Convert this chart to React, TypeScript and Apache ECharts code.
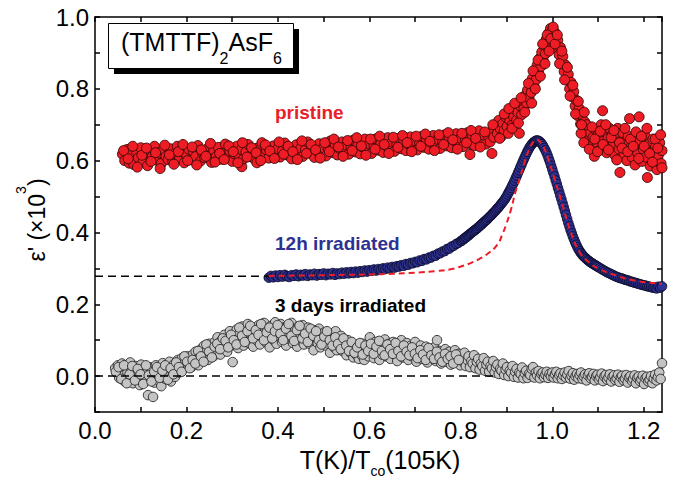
import React, { useEffect, useRef } from "react";
import * as echarts from "echarts";

// ---------- data (x = T/Tco, y = eps' x10^3) ----------
const pristine: [number, number][] = [
  [0.060,0.618],[0.065,0.600],[0.070,0.631],[0.075,0.593],[0.080,0.622],[0.085,0.589],[0.090,0.627],[0.095,0.608],
  [0.100,0.636],[0.105,0.597],[0.110,0.619],[0.115,0.586],[0.120,0.625],[0.125,0.610],[0.130,0.640],[0.135,0.601],
  [0.140,0.621],[0.145,0.592],[0.150,0.630],[0.155,0.612],[0.160,0.603],[0.165,0.633],[0.170,0.598],[0.175,0.620],
  [0.180,0.640],[0.185,0.606],[0.190,0.625],[0.195,0.594],[0.200,0.617],[0.205,0.632],[0.210,0.603],[0.215,0.626],
  [0.220,0.611],[0.225,0.642],[0.230,0.598],[0.235,0.621],[0.240,0.608],[0.245,0.633],[0.250,0.614],[0.255,0.595],
  [0.260,0.629],[0.265,0.611],[0.270,0.637],[0.275,0.604],[0.280,0.622],[0.285,0.646],[0.290,0.609],[0.295,0.627],
  [0.300,0.598],[0.305,0.619],[0.310,0.640],[0.315,0.613],[0.320,0.631],[0.321,0.583],[0.325,0.605],[0.330,0.624],
  [0.335,0.645],[0.340,0.611],[0.345,0.628],[0.350,0.603],[0.354,0.594],[0.355,0.635],[0.360,0.618],[0.365,0.650],
  [0.370,0.612],[0.375,0.630],[0.380,0.607],[0.385,0.625],[0.390,0.641],[0.395,0.614],[0.400,0.633],[0.405,0.610],
  [0.410,0.628],[0.415,0.649],[0.420,0.616],[0.425,0.637],[0.430,0.605],[0.435,0.624],[0.440,0.644],[0.445,0.619],
  [0.450,0.635],[0.455,0.612],[0.460,0.630],[0.465,0.652],[0.470,0.621],[0.475,0.640],[0.480,0.609],[0.485,0.628],
  [0.490,0.647],[0.495,0.617],[0.500,0.636],[0.505,0.613],[0.510,0.633],[0.515,0.655],[0.520,0.622],[0.525,0.641],
  [0.530,0.616],[0.535,0.634],[0.540,0.652],[0.545,0.625],[0.550,0.643],[0.555,0.618],[0.560,0.637],[0.565,0.657],
  [0.570,0.624],[0.575,0.645],[0.580,0.619],[0.585,0.638],[0.590,0.660],[0.595,0.627],[0.600,0.646],[0.605,0.620],
  [0.610,0.640],[0.615,0.661],[0.620,0.629],[0.625,0.648],[0.630,0.623],[0.635,0.643],[0.640,0.664],[0.645,0.631],
  [0.650,0.651],[0.655,0.626],[0.660,0.645],[0.665,0.662],[0.670,0.633],[0.675,0.652],[0.680,0.628],[0.685,0.647],
  [0.690,0.666],[0.695,0.635],[0.700,0.655],[0.705,0.630],[0.710,0.649],[0.715,0.668],[0.720,0.637],[0.725,0.657],
  [0.730,0.632],[0.735,0.651],[0.740,0.670],[0.745,0.639],[0.750,0.659],[0.755,0.634],[0.760,0.653],[0.765,0.672],
  [0.770,0.641],[0.775,0.661],[0.780,0.636],[0.785,0.656],[0.790,0.675],[0.795,0.644],[0.800,0.663],[0.805,0.639],
  [0.810,0.659],[0.815,0.678],[0.820,0.617],[0.822,0.646],[0.825,0.666],[0.830,0.642],[0.835,0.661],[0.840,0.683],
  [0.845,0.650],[0.850,0.671],[0.855,0.646],[0.860,0.668],[0.864,0.652],[0.868,0.620],[0.869,0.683],[0.872,0.665],
  [0.876,0.698],[0.880,0.676],[0.883,0.712],[0.886,0.689],[0.889,0.668],[0.892,0.703],[0.895,0.685],[0.898,0.721],
  [0.901,0.695],[0.904,0.676],[0.907,0.712],[0.910,0.731],[0.913,0.700],[0.916,0.722],[0.919,0.742],[0.922,0.713],
  [0.925,0.735],[0.928,0.676],[0.930,0.752],[0.933,0.728],[0.936,0.766],[0.938,0.745],[0.941,0.782],[0.944,0.760],
  [0.946,0.797],[0.949,0.775],[0.952,0.812],[0.954,0.790],[0.957,0.830],[0.960,0.808],[0.962,0.848],[0.965,0.826],
  [0.967,0.866],[0.970,0.845],[0.972,0.884],[0.975,0.862],[0.977,0.902],[0.980,0.880],[0.982,0.920],[0.985,0.898],
  [0.987,0.938],[0.990,0.915],[0.992,0.955],[0.994,0.932],[0.996,0.968],[0.999,0.948],[1.001,0.965],[1.003,0.930],
  [1.005,0.958],[1.008,0.940],[1.010,0.912],[1.012,0.935],[1.015,0.895],[1.018,0.915],[1.020,0.872],[1.023,0.890],
  [1.026,0.848],[1.029,0.866],[1.032,0.826],[1.035,0.840],[1.038,0.800],[1.041,0.818],[1.044,0.778],[1.047,0.792],
  [1.050,0.752],[1.053,0.768],[1.056,0.725],[1.059,0.745],[1.062,0.702],[1.065,0.728],[1.068,0.685],[1.071,0.708],
  [1.074,0.668],[1.077,0.690],[1.080,0.655],[1.083,0.678],[1.086,0.640],[1.089,0.664],[1.092,0.612],[1.095,0.686],
  [1.098,0.650],[1.101,0.672],[1.104,0.629],[1.107,0.700],[1.110,0.739],[1.113,0.655],[1.116,0.680],[1.119,0.622],
  [1.122,0.662],[1.125,0.690],[1.128,0.640],[1.131,0.672],[1.134,0.648],[1.137,0.615],[1.140,0.665],[1.143,0.690],
  [1.146,0.632],[1.148,0.567],[1.151,0.655],[1.154,0.678],[1.157,0.620],[1.160,0.645],[1.163,0.600],[1.166,0.668],
  [1.169,0.717],[1.172,0.638],[1.175,0.610],[1.178,0.660],[1.181,0.588],[1.184,0.642],[1.187,0.620],[1.190,0.722],
  [1.193,0.655],[1.196,0.598],[1.199,0.632],[1.202,0.672],[1.205,0.610],[1.208,0.553],[1.211,0.645],[1.214,0.585],
  [1.217,0.625],[1.220,0.660],[1.223,0.600],[1.226,0.638],[1.229,0.575],[1.232,0.615],[1.235,0.650],[1.238,0.592],
  [1.240,0.628],[1.241,0.605],
  [1.063,0.676],[1.069,0.650],[1.075,0.700],[1.081,0.632],[1.087,0.694],[1.093,0.660],[1.099,0.625],[1.105,0.682],
  [1.111,0.645],[1.117,0.700],[1.123,0.630],[1.129,0.664],[1.135,0.684],[1.141,0.602],[1.147,0.650],[1.153,0.635],
  [1.159,0.690],[1.165,0.625],[1.171,0.660],[1.177,0.640],[1.183,0.680],[1.189,0.606],[1.195,0.668],[1.201,0.640],
  [1.207,0.690],[1.213,0.620],[1.219,0.596],[1.225,0.660],[1.231,0.635],[1.237,0.672],[1.240,0.580],
  [0.0625,0.628],[0.0725,0.605],[0.0825,0.640],[0.0925,0.582],[0.1025,0.615],[0.1125,0.635],[0.1225,0.598],[0.1325,0.622],
  [0.1425,0.578],[0.1525,0.643],[0.1625,0.616],[0.1725,0.590],[0.1825,0.625],[0.1925,0.645],[0.2025,0.600],[0.2125,0.638],
  [0.2225,0.588],[0.2325,0.630],[0.2425,0.612],[0.2525,0.648],[0.2625,0.596],[0.2725,0.620],[0.2825,0.603],[0.2925,0.641],
  [0.3025,0.625],[0.3125,0.594],[0.3225,0.650],[0.3325,0.610],[0.3425,0.636],[0.3525,0.622],[0.3625,0.600],[0.3725,0.644],
  [0.3825,0.627],[0.3925,0.606],[0.4025,0.652],[0.4125,0.618],[0.4225,0.640],[0.4325,0.625],[0.4425,0.603],[0.4525,0.655],
  [0.4625,0.620],[0.4725,0.645],[0.4825,0.630],[0.4925,0.607],[0.5025,0.650],[0.5125,0.625],[0.5225,0.660],[0.5325,0.638],
  [0.5425,0.612],[0.5525,0.656],[0.5625,0.628],[0.5725,0.664],[0.5825,0.641],[0.5925,0.615],[0.6025,0.660],[0.6125,0.632],
  [0.6225,0.668],[0.6325,0.645],[0.6425,0.620],[0.6525,0.665],[0.6625,0.637],[0.6725,0.670],[0.6825,0.650],[0.6925,0.625],
  [0.7025,0.668],[0.7125,0.640],[0.7225,0.674],[0.7325,0.654],[0.7425,0.628],[0.7525,0.672],[0.7625,0.645],[0.7725,0.678],
  [0.7825,0.658],[0.7925,0.632],[0.8025,0.676],[0.8125,0.650],[0.8225,0.684],[0.8325,0.662],[0.8425,0.638],[0.8525,0.680],
  [0.870,0.700],[0.885,0.662],[0.895,0.730],[0.905,0.745],[0.912,0.690],[0.918,0.760],[0.926,0.705],[0.932,0.775],
  [0.940,0.735],[0.948,0.815],[0.955,0.760],[0.958,0.850],[0.963,0.800],[0.969,0.880],[0.974,0.835],[0.979,0.925],
  [0.984,0.870],[0.989,0.950],[0.993,0.905],[0.997,0.940],[1.002,0.972],[1.006,0.925],[1.011,0.950],[1.016,0.870],
  [1.021,0.905],[1.027,0.825],[1.033,0.860],[1.039,0.780],[1.045,0.810],[1.051,0.730],[1.057,0.765],[1.064,0.700],
  [1.070,0.735]
];

const irradiated12h: [number, number][] = [
  [0.380,0.274],[0.385,0.279],[0.390,0.275],[0.395,0.280],[0.400,0.276],[0.405,0.281],[0.410,0.277],[0.415,0.282],
  [0.420,0.278],[0.425,0.276],[0.430,0.281],[0.435,0.279],[0.440,0.283],[0.445,0.278],[0.450,0.282],[0.455,0.280],
  [0.460,0.284],[0.465,0.279],[0.470,0.283],[0.475,0.281],[0.480,0.285],[0.485,0.280],[0.490,0.284],[0.495,0.282],
  [0.500,0.286],[0.505,0.281],[0.510,0.285],[0.515,0.283],[0.520,0.287],[0.525,0.282],[0.530,0.286],[0.535,0.284],
  [0.540,0.288],[0.545,0.285],[0.550,0.289],[0.555,0.286],[0.560,0.290],[0.565,0.287],[0.570,0.291],[0.575,0.288],
  [0.580,0.292],[0.585,0.290],[0.590,0.294],[0.595,0.291],[0.600,0.295],[0.605,0.293],[0.610,0.297],[0.615,0.294],
  [0.620,0.298],[0.625,0.296],[0.630,0.300],[0.635,0.298],[0.640,0.302],[0.645,0.300],[0.650,0.304],[0.655,0.302],
  [0.660,0.306],[0.665,0.305],[0.670,0.309],[0.675,0.307],[0.680,0.312],[0.685,0.310],[0.690,0.315],[0.695,0.314],
  [0.700,0.318],[0.705,0.317],[0.710,0.322],[0.715,0.321],[0.720,0.326],[0.725,0.325],[0.730,0.330],[0.735,0.330],
  [0.740,0.335],[0.745,0.335],[0.750,0.341],[0.755,0.342],[0.760,0.347],[0.765,0.348],[0.770,0.354],[0.775,0.355],
  [0.780,0.361],[0.785,0.363],[0.790,0.368],[0.795,0.371],[0.800,0.376],[0.8025,0.377],[0.805,0.381],[0.8075,0.382],
  [0.810,0.386],[0.8125,0.387],[0.815,0.391],[0.8175,0.392],[0.820,0.396],[0.8225,0.398],[0.825,0.401],[0.8275,0.403],
  [0.830,0.406],[0.8325,0.408],[0.835,0.411],[0.8375,0.413],[0.840,0.417],[0.8425,0.419],[0.845,0.422],[0.8475,0.425],
  [0.850,0.428],[0.8525,0.431],[0.855,0.434],[0.8575,0.436],[0.860,0.440],[0.8625,0.443],[0.865,0.446],[0.8675,0.449],
  [0.870,0.453],[0.8725,0.456],[0.875,0.459],[0.8775,0.463],[0.880,0.467],[0.8825,0.470],[0.885,0.474],[0.8875,0.478],
  [0.890,0.482],[0.8925,0.486],[0.895,0.490],[0.8975,0.495],[0.900,0.500],[0.9025,0.506],[0.905,0.512],[0.9075,0.518],
  [0.910,0.524],[0.9125,0.531],[0.915,0.537],[0.9175,0.544],[0.920,0.551],[0.9225,0.558],[0.925,0.566],[0.9275,0.573],
  [0.930,0.581],[0.9325,0.588],[0.935,0.596],[0.9375,0.603],[0.940,0.610],[0.9425,0.617],[0.945,0.624],[0.9475,0.630],
  [0.950,0.636],[0.9525,0.641],[0.955,0.645],[0.9575,0.649],[0.960,0.652],[0.9625,0.654],[0.965,0.656],[0.9675,0.656],
  [0.970,0.655],[0.9725,0.653],[0.975,0.650],[0.9775,0.646],[0.980,0.641],[0.9825,0.635],[0.985,0.629],[0.9875,0.622],
  [0.990,0.614],[0.9925,0.605],[0.995,0.596],[0.9975,0.586],[1.000,0.576],[1.0025,0.566],[1.005,0.556],[1.0075,0.545],
  [1.010,0.535],[1.0125,0.524],[1.015,0.514],[1.0175,0.503],[1.020,0.493],[1.0225,0.482],[1.025,0.471],[1.0275,0.460],
  [1.030,0.449],[1.0325,0.438],[1.035,0.427],[1.0375,0.417],[1.040,0.407],[1.0425,0.398],[1.045,0.389],[1.0475,0.381],
  [1.050,0.373],[1.0525,0.366],[1.055,0.359],[1.0575,0.353],[1.060,0.348],[1.0625,0.343],[1.065,0.339],[1.0675,0.335],
  [1.070,0.332],[1.0725,0.329],[1.075,0.326],[1.0775,0.323],[1.080,0.321],[1.0825,0.318],[1.085,0.316],[1.0875,0.314],
  [1.090,0.312],[1.0925,0.310],[1.095,0.308],[1.0975,0.306],[1.100,0.304],[1.104,0.301],[1.108,0.298],[1.112,0.295],
  [1.116,0.292],[1.120,0.289],[1.124,0.287],[1.128,0.284],[1.132,0.282],[1.136,0.279],[1.140,0.277],[1.144,0.275],
  [1.148,0.273],[1.152,0.272],[1.156,0.270],[1.160,0.268],[1.164,0.267],[1.168,0.265],[1.172,0.263],[1.176,0.262],
  [1.180,0.260],[1.184,0.259],[1.188,0.257],[1.192,0.256],[1.196,0.254],[1.200,0.253],[1.204,0.252],[1.208,0.250],
  [1.212,0.249],[1.216,0.248],[1.220,0.246],[1.224,0.247],[1.228,0.244],[1.232,0.249],[1.236,0.246],[1.240,0.250]
];

const fit12h: [number, number][] = [
  [0.38,0.279],[0.45,0.280],[0.50,0.281],[0.55,0.282],[0.60,0.283],[0.65,0.285],[0.70,0.288],[0.75,0.293],
  [0.78,0.298],[0.80,0.305],[0.82,0.314],[0.84,0.326],[0.86,0.342],[0.88,0.366],[0.89,0.392],[0.90,0.425],
  [0.91,0.465],[0.92,0.515],[0.93,0.555],[0.94,0.597],[0.95,0.633],[0.96,0.655],[0.965,0.659],[0.97,0.657],
  [0.98,0.640],[0.99,0.610],[1.00,0.570],[1.02,0.487],[1.04,0.403],[1.06,0.345],[1.08,0.317],[1.10,0.300],
  [1.14,0.280],[1.18,0.266],[1.24,0.257]
];

const irradiated3d: [number, number][] = [
  [0.044,0.022],[0.048,0.008],[0.050,0.030],[0.053,-0.005],[0.056,0.018],[0.059,0.035],[0.062,0.002],[0.065,-0.015],
  [0.068,0.025],[0.071,0.010],[0.074,-0.008],[0.077,0.038],[0.080,0.015],[0.083,-0.020],[0.086,0.005],[0.089,0.028],
  [0.092,-0.010],[0.095,0.012],[0.098,-0.025],[0.101,0.032],[0.104,0.000],[0.107,0.018],[0.110,-0.015],[0.113,0.008],
  [0.116,-0.053],[0.119,0.025],[0.122,-0.005],[0.125,0.015],[0.127,-0.058],[0.130,-0.018],[0.133,0.030],[0.136,0.004],
  [0.139,-0.012],[0.142,0.020],[0.145,-0.028],[0.148,0.036],[0.151,0.010],[0.154,-0.008],[0.157,0.024],[0.160,0.000],
  [0.163,0.040],[0.166,-0.015],[0.169,0.015],[0.172,0.032],[0.175,-0.002],[0.178,0.022],[0.181,0.045],[0.184,0.010],
  [0.187,0.035],[0.190,0.050],[0.193,0.020],[0.196,0.042],[0.199,0.028],[0.202,0.055],[0.205,0.035],[0.208,0.048],
  [0.211,0.025],[0.214,0.060],[0.217,0.040],[0.220,0.068],[0.223,0.046],[0.226,0.030],[0.229,0.062],[0.232,0.075],
  [0.235,0.050],[0.238,0.084],[0.241,0.058],[0.244,0.072],[0.247,0.045],[0.250,0.090],[0.253,0.065],[0.256,0.080],
  [0.259,0.055],[0.262,0.095],[0.265,0.070],[0.268,0.108],[0.271,0.082],[0.274,0.060],[0.277,0.100],[0.280,0.078],
  [0.283,0.115],[0.286,0.090],[0.289,0.068],[0.292,0.105],[0.295,0.125],[0.298,0.085],[0.301,0.039],[0.304,0.112],
  [0.307,0.095],[0.310,0.130],[0.313,0.078],[0.316,0.118],[0.319,0.100],[0.322,0.138],[0.325,0.085],[0.328,0.122],
  [0.331,0.105],[0.334,0.145],[0.337,0.092],[0.340,0.128],[0.343,0.110],[0.346,0.082],[0.349,0.135],[0.352,0.118],
  [0.355,0.098],[0.358,0.142],[0.361,0.088],[0.364,0.125],[0.367,0.108],[0.370,0.148],[0.373,0.095],[0.376,0.130],
  [0.379,0.112],[0.382,0.080],[0.385,0.140],[0.388,0.118],[0.391,0.100],[0.394,0.150],[0.397,0.090],[0.400,0.128],
  [0.403,0.110],[0.406,0.145],[0.409,0.095],[0.412,0.135],[0.415,0.115],[0.418,0.085],[0.421,0.140],[0.424,0.120],
  [0.427,0.102],[0.430,0.148],[0.433,0.092],[0.436,0.130],[0.439,0.112],[0.442,0.082],[0.445,0.138],[0.448,0.118],
  [0.451,0.098],[0.454,0.142],[0.457,0.088],[0.460,0.125],[0.463,0.108],[0.466,0.135],[0.469,0.090],[0.472,0.120],
  [0.475,0.100],[0.478,0.072],[0.481,0.128],[0.484,0.110],[0.487,0.092],[0.490,0.132],[0.493,0.080],[0.496,0.115],
  [0.499,0.098],[0.502,0.122],[0.505,0.085],[0.508,0.108],[0.511,0.090],[0.514,0.065],[0.517,0.118],[0.520,0.098],
  [0.523,0.080],[0.526,0.125],[0.529,0.072],[0.532,0.102],[0.535,0.088],[0.538,0.112],[0.541,0.070],[0.544,0.095],
  [0.547,0.078],[0.550,0.058],[0.553,0.100],[0.556,0.082],[0.559,0.065],[0.562,0.090],[0.565,0.052],[0.568,0.078],
  [0.571,0.060],[0.574,0.088],[0.577,0.048],[0.580,0.072],[0.583,0.058],[0.586,0.090],[0.589,0.045],[0.592,0.068],
  [0.595,0.080],[0.598,0.055],[0.601,0.108],[0.604,0.070],[0.607,0.085],[0.610,0.050],[0.613,0.095],[0.616,0.065],
  [0.619,0.078],[0.622,0.045],[0.625,0.092],[0.628,0.060],[0.631,0.082],[0.634,0.102],[0.637,0.055],[0.640,0.075],
  [0.643,0.090],[0.646,0.048],[0.649,0.070],[0.652,0.095],[0.655,0.060],[0.658,0.080],[0.661,0.042],[0.664,0.088],
  [0.667,0.065],[0.670,0.100],[0.673,0.052],[0.676,0.078],[0.679,0.062],[0.682,0.092],[0.685,0.045],[0.688,0.072],
  [0.691,0.085],[0.694,0.055],[0.697,0.068],[0.700,0.095],[0.703,0.040],[0.706,0.075],[0.709,0.060],[0.712,0.085],
  [0.715,0.048],[0.718,0.070],[0.721,0.058],[0.724,0.082],[0.727,0.038],[0.730,0.065],[0.733,0.075],[0.736,0.050],
  [0.739,0.062],[0.742,0.080],[0.745,0.042],[0.748,0.100],[0.751,0.058],[0.754,0.070],[0.757,0.035],[0.760,0.062],
  [0.763,0.048],[0.766,0.075],[0.769,0.040],[0.772,0.058],[0.775,0.068],[0.778,0.032],[0.781,0.055],[0.784,0.045],
  [0.787,0.072],[0.790,0.038],[0.793,0.052],[0.796,0.062],[0.799,0.030],[0.802,0.048],[0.805,0.040],[0.808,0.065],
  [0.811,0.028],[0.814,0.045],[0.817,0.055],[0.820,0.025],[0.823,0.042],[0.826,0.035],[0.829,0.058],[0.832,0.022],
  [0.835,0.040],[0.838,0.048],[0.841,0.018],[0.844,0.035],[0.847,0.028],[0.850,0.050],[0.853,0.015],[0.856,0.032],
  [0.859,0.040],[0.862,0.012],[0.865,0.028],[0.868,0.022],[0.871,0.042],[0.874,0.010],[0.877,0.025],[0.880,0.032],
  [0.883,0.006],[0.886,0.020],[0.889,0.015],[0.892,0.035],[0.895,0.003],[0.898,0.018],[0.901,0.025],[0.904,0.000],
  [0.907,0.015],[0.910,0.010],[0.913,0.028],[0.916,-0.002],[0.919,0.012],[0.922,0.020],[0.925,-0.004],[0.928,0.010],
  [0.931,0.006],[0.934,0.024],[0.937,-0.006],[0.940,0.008],[0.943,0.015],[0.946,-0.005],[0.949,0.006],[0.952,0.003],
  [0.955,0.020],[0.958,0.025],[0.961,-0.004],[0.964,0.010],[0.967,0.002],[0.970,0.014],[0.973,-0.006],[0.976,0.006],
  [0.979,0.010],[0.982,-0.003],[0.985,0.004],[0.988,0.012],[0.991,-0.005],[0.994,0.006],[0.997,0.000],[1.000,0.010],
  [1.003,-0.004],[1.006,0.005],[1.009,0.012],[1.012,-0.006],[1.015,0.003],[1.018,0.008],[1.021,-0.008],[1.024,0.002],
  [1.027,0.010],[1.030,-0.004],[1.033,0.004],[1.036,0.014],[1.039,-0.007],[1.042,0.001],[1.045,0.008],[1.048,-0.010],
  [1.051,0.000],[1.054,0.006],[1.057,-0.006],[1.060,0.003],[1.063,0.010],[1.066,-0.008],[1.069,-0.001],[1.072,0.005],
  [1.075,-0.012],[1.078,0.002],[1.081,0.008],[1.084,-0.006],[1.087,-0.002],[1.090,0.006],[1.093,-0.012],[1.096,0.000],
  [1.099,0.004],[1.102,-0.009],[1.105,-0.003],[1.108,0.007],[1.111,-0.014],[1.114,-0.001],[1.117,0.003],[1.120,-0.010],
  [1.123,-0.004],[1.126,0.005],[1.129,-0.015],[1.132,-0.002],[1.135,0.002],[1.138,-0.011],[1.141,-0.006],[1.144,0.004],
  [1.147,-0.016],[1.150,-0.003],[1.153,0.001],[1.156,-0.012],[1.159,-0.007],[1.162,0.003],[1.165,-0.018],[1.168,-0.004],
  [1.171,0.000],[1.174,-0.013],[1.177,-0.008],[1.180,0.002],[1.183,-0.020],[1.186,-0.005],[1.189,-0.001],[1.192,-0.014],
  [1.195,-0.009],[1.198,0.001],[1.201,-0.022],[1.204,-0.006],[1.207,-0.002],[1.210,-0.015],[1.213,-0.010],[1.216,0.000],
  [1.219,-0.020],[1.222,-0.007],[1.225,0.004],[1.228,-0.012],[1.231,-0.003],[1.234,0.010],[1.237,-0.008],[1.240,0.036],
  [1.241,-0.006],
  [0.0455,0.012],[0.0515,0.025],[0.0575,-0.008],[0.0635,0.030],[0.0695,-0.020],[0.0755,0.005],[0.0815,0.028],[0.0875,-0.012],
  [0.0935,0.020],[0.0995,0.005],[0.1055,-0.022],[0.1115,0.030],[0.1175,0.002],[0.1235,-0.015],[0.1295,0.012],[0.1355,0.025],
  [0.1415,-0.005],[0.1475,0.015],[0.1535,0.030],[0.1595,-0.010],[0.1655,0.022],[0.1715,0.005],[0.1775,0.038],[0.1835,0.025],
  [0.1895,0.012],[0.1955,0.055],[0.2015,0.040],[0.2075,0.022],[0.2135,0.045],[0.2195,0.035],[0.2255,0.070],[0.2315,0.055],
  [0.2375,0.040],[0.2435,0.088],[0.2495,0.068],[0.2555,0.052],[0.2615,0.082],[0.2675,0.090],[0.2735,0.075],[0.2795,0.105],
  [0.2855,0.098],[0.2915,0.080],[0.2975,0.115],[0.3035,0.100],[0.3095,0.088],[0.3155,0.135],[0.3215,0.112],[0.3275,0.095],
  [0.3335,0.125],[0.3395,0.140],[0.3455,0.105],[0.3515,0.128],[0.3575,0.115],[0.3635,0.145],[0.3695,0.100],[0.3755,0.122],
  [0.3815,0.135],[0.3875,0.105],[0.3935,0.125],[0.3995,0.142],[0.4055,0.118],[0.4115,0.100],[0.4175,0.132],[0.4235,0.145],
  [0.4295,0.112],[0.4355,0.098],[0.4415,0.128],[0.4475,0.140],[0.4535,0.105],[0.4595,0.118],[0.4655,0.095],[0.4715,0.132],
  [0.4775,0.112],[0.4835,0.125],[0.4895,0.100],[0.4955,0.088],[0.5015,0.110],[0.5075,0.125],[0.5135,0.100],[0.5195,0.085],
  [0.5255,0.108],[0.5315,0.090],[0.5375,0.075],[0.5435,0.105],[0.5495,0.085],[0.5555,0.070],[0.5615,0.095],[0.5675,0.065],
  [0.5735,0.080],[0.5795,0.092],[0.5855,0.060],[0.5915,0.085],[0.5975,0.070],[0.6035,0.090],[0.6095,0.062],[0.6155,0.082],
  [0.6215,0.098],[0.6275,0.070],[0.6335,0.058],[0.6395,0.088],[0.6455,0.075],[0.6515,0.062],[0.6575,0.092],[0.6635,0.070],
  [0.6695,0.055],[0.6755,0.085],[0.6815,0.068],[0.6875,0.058],[0.6935,0.080],[0.6995,0.062],[0.7055,0.050],[0.7115,0.072],
  [0.7175,0.060],[0.7235,0.045],[0.7295,0.078],[0.7355,0.058],[0.7415,0.048],[0.7475,0.068],[0.7535,0.052],[0.7595,0.040],
  [0.7655,0.062],[0.7715,0.048],[0.7775,0.055],[0.7835,0.035],[0.7895,0.060],[0.7955,0.045]
];

const ref12h: [number, number][] = [[0, 0.278], [0.38, 0.278]];
const ref3d: [number, number][] = [[0, 0], [0.88, 0]];

const seriesLabels = ["pristine", "12h irradiated", "3 days irradiated"];
const sampleName = "{a|(TMTTF)}{s|2}{a|AsF}{s|6}";
const xTitle = "{a|T(K)/T}{s|co}{a|(105K)}";
const yTitle = "{a|ε' (×10}{p|3}{a|)}";

const FONT = "Liberation Sans, Arial, sans-serif";

const tickFmt = (v: number) => {
  const k = Math.round(v * 10);
  if (Math.abs(v * 10 - k) > 1e-6 || k % 2 !== 0) return "";
  return (k / 10).toFixed(1);
};

export default function App() {
  const ref = useRef<HTMLDivElement>(null);
  useEffect(() => {
    if (!ref.current) return;
    const chart = echarts.init(ref.current, undefined, { renderer: "svg" });
    const axisCommon = {
      type: "value" as const,
      axisLine: { onZero: false, lineStyle: { color: "#000", width: 1.5 } },
      axisTick: { inside: true, length: 5, lineStyle: { color: "#000", width: 1.5 } },
      splitLine: { show: false },
    };
    const option: any = {
      animation: false,
      backgroundColor: "#fff",
      textStyle: { fontFamily: FONT },
      grid: { left: 95, right: 17, top: 17, bottom: 67, containLabel: false },
      xAxis: [
        {
          ...axisCommon, position: "bottom", min: 0, max: 1.24, interval: 0.1,
          axisLabel: { formatter: tickFmt, color: "#000", fontSize: 24, fontFamily: FONT, margin: 6, showMaxLabel: false },
        },
        {
          ...axisCommon, position: "top", min: 0, max: 1.24, interval: 0.1,
          axisLabel: { show: false },
        },
      ],
      yAxis: [
        {
          ...axisCommon, position: "left", min: -0.1, max: 1.0, interval: 0.1,
          axisLabel: { formatter: tickFmt, color: "#000", fontSize: 24, fontFamily: FONT, margin: 6 },
        },
        {
          ...axisCommon, position: "right", min: -0.1, max: 1.0, interval: 0.1,
          axisLabel: { show: false },
        },
      ],
      series: [
        {
          type: "line", data: ref3d, symbol: "none", silent: true,
          lineStyle: { color: "#000", width: 1.5, type: [8, 5] },
        },
        {
          type: "line", data: ref12h, symbol: "none", silent: true,
          lineStyle: { color: "#000", width: 1.5, type: [8, 5] },
        },
        {
          name: seriesLabels[2], type: "scatter", data: irradiated3d, symbolSize: 9.5,
          itemStyle: { color: "#c4c4c4", borderColor: "#262626", borderWidth: 0.9, opacity: 1 },
        },
        {
          name: seriesLabels[1], type: "scatter", data: irradiated12h, symbolSize: 9.5,
          itemStyle: { color: "#2e3192", borderColor: "#0c0c2a", borderWidth: 0.9, opacity: 1 },
        },
        {
          type: "line", data: fit12h, symbol: "none", smooth: true, silent: true,
          lineStyle: { color: "#ee1c24", width: 2, type: [6, 4] },
        },
        {
          name: seriesLabels[0], type: "scatter", data: pristine, symbolSize: 10,
          itemStyle: { color: "#ee1c24", borderColor: "#3a0808", borderWidth: 0.9, opacity: 1 },
        },
      ],
      graphic: [
        { type: "rect", shape: { x: 114, y: 29, width: 185, height: 45 }, style: { fill: "#000" } },
        { type: "rect", shape: { x: 108.5, y: 23.5, width: 185, height: 45 }, style: { fill: "#fff", stroke: "#000", lineWidth: 1 } },
        {
          type: "text", x: 121, y: 29.8,
          style: {
            text: sampleName, align: "left", verticalAlign: "top",
            rich: {
              a: { fontSize: 25, fontFamily: FONT, lineHeight: 25, verticalAlign: "top", fill: "#000" },
              s: { fontSize: 16, fontFamily: FONT, lineHeight: 36.5, verticalAlign: "bottom", fill: "#000" },
            },
          },
        },
        {
          type: "text", x: 380, y: 447.8,
          style: {
            text: xTitle, align: "center", verticalAlign: "top",
            rich: {
              a: { fontSize: 25, fontFamily: FONT, lineHeight: 25, verticalAlign: "top", fill: "#000" },
              s: { fontSize: 14, fontFamily: FONT, lineHeight: 30.5, verticalAlign: "bottom", fill: "#000" },
            },
          },
        },
        {
          type: "text", x: 37, y: 220, rotation: Math.PI / 2,
          style: {
            text: yTitle, align: "center", verticalAlign: "middle",
            rich: {
              a: { fontSize: 23, fontFamily: FONT, lineHeight: 46, fill: "#000" },
              p: { fontSize: 14, fontFamily: FONT, lineHeight: 14, verticalAlign: "top", fill: "#000" },
            },
          },
        },
        {
          type: "text", x: 275, y: 112,
          style: { text: seriesLabels[0], font: `bold 19px ${FONT}`, fill: "#e8202a", verticalAlign: "middle" },
        },
        {
          type: "text", x: 275, y: 243,
          style: { text: seriesLabels[1], font: `bold 19px ${FONT}`, fill: "#2e3192", verticalAlign: "middle" },
        },
        {
          type: "text", x: 275, y: 305,
          style: { text: seriesLabels[2], font: `bold 19px ${FONT}`, fill: "#000", verticalAlign: "middle" },
        },
      ],
    };
    chart.setOption(option);
    return () => chart.dispose();
  }, []);
  return (
    <div
      ref={ref}
      style={{ position: "absolute", left: 0, top: 0, width: 679, height: 479, background: "#fff" }}
    />
  );
}
